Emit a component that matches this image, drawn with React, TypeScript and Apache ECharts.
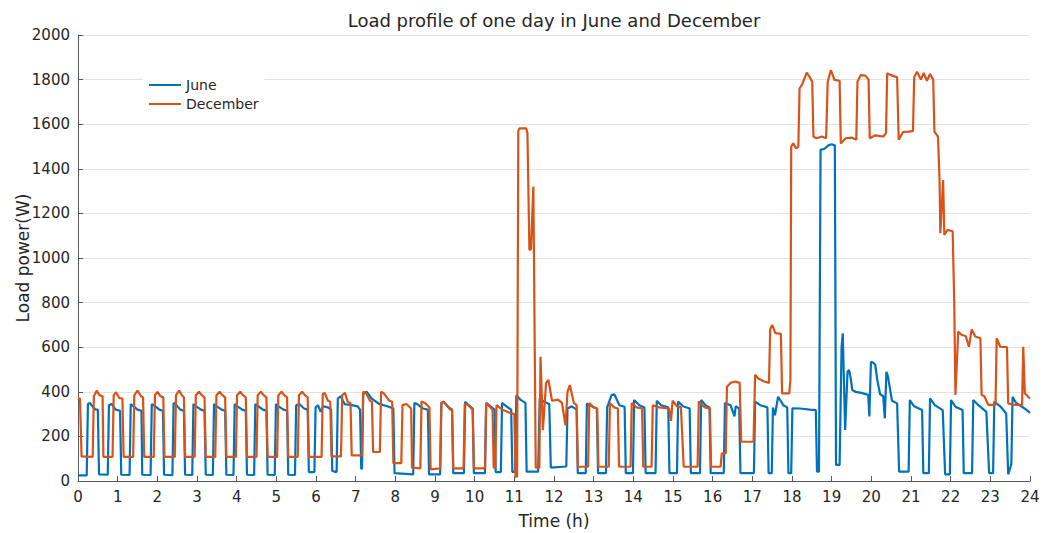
import React, { useEffect, useRef } from "react";
import * as echarts from "echarts";

const chartTitle = "Load profile of one day in June and December";
const xAxisName = "Time (h)";
const yAxisName = "Load power(W)";
const seriesNames = ["June", "December"];

// [hour, load W]
const juneLoad: [number, number][] = [
  [0, 25], [0.22, 25], [0.25, 345], [0.30, 350], [0.38, 330], [0.45, 320], [0.50, 320], [0.53, 30],
  [0.75, 28], [0.78, 340], [0.85, 345], [0.95, 320], [1.06, 315], [1.09, 28],
  [1.30, 27], [1.33, 345], [1.40, 335], [1.50, 320], [1.60, 315], [1.62, 28],
  [1.83, 27], [1.86, 345], [1.95, 335], [2.05, 320], [2.14, 315], [2.17, 28],
  [2.38, 26], [2.41, 350], [2.48, 340], [2.58, 320], [2.67, 315], [2.70, 28],
  [2.88, 27], [2.91, 345], [2.98, 335], [3.10, 320], [3.19, 315], [3.22, 28],
  [3.40, 27], [3.43, 345], [3.50, 335], [3.62, 320], [3.71, 315], [3.74, 28],
  [3.92, 27], [3.95, 345], [4.02, 335], [4.14, 320], [4.23, 315], [4.26, 28],
  [4.44, 27], [4.47, 345], [4.55, 335], [4.66, 320], [4.75, 315], [4.78, 28],
  [4.96, 27], [4.99, 345], [5.06, 335], [5.18, 320], [5.27, 315], [5.30, 28],
  [5.47, 27], [5.50, 340], [5.58, 345], [5.70, 325], [5.79, 320], [5.82, 40],
  [5.96, 40], [5.99, 330], [6.05, 340], [6.12, 310], [6.18, 335], [6.30, 330], [6.38, 320], [6.41, 45],
  [6.52, 40], [6.55, 370], [6.62, 380], [6.72, 345], [6.90, 340], [7.05, 335], [7.11, 320], [7.14, 55],
  [7.16, 55], [7.19, 390], [7.28, 400], [7.40, 370], [7.60, 345], [7.80, 335], [7.95, 325], [7.98, 35],
  [8.45, 30], [8.48, 350], [8.55, 345], [8.70, 325], [8.82, 320], [8.85, 30],
  [9.13, 30], [9.16, 350], [9.22, 355], [9.35, 330], [9.43, 320], [9.46, 35],
  [9.73, 35], [9.76, 355], [9.85, 340], [9.95, 325], [9.98, 35],
  [10.26, 35], [10.29, 350], [10.40, 335], [10.50, 320], [10.53, 40],
  [10.66, 40], [10.69, 350], [10.80, 335], [10.92, 320], [10.95, 40],
  [11.02, 42], [11.05, 385], [11.15, 365], [11.28, 350], [11.31, 42],
  [11.60, 42], [11.64, 370], [11.75, 355], [11.88, 345], [11.92, 60],
  [12.31, 65], [12.34, 325], [12.45, 335], [12.57, 320], [12.60, 35],
  [12.80, 35], [12.83, 348], [12.95, 335], [13.08, 325], [13.11, 35],
  [13.31, 35], [13.34, 330], [13.45, 385], [13.52, 389], [13.65, 340], [13.78, 333], [13.81, 35],
  [13.99, 35], [14.02, 363], [14.15, 340], [14.28, 330], [14.31, 35],
  [14.56, 35], [14.59, 360], [14.70, 340], [14.88, 330], [14.91, 35],
  [15.10, 35], [15.13, 356], [15.25, 335], [15.42, 325], [15.45, 35],
  [15.68, 35], [15.71, 363], [15.82, 340], [15.92, 330], [15.95, 35],
  [16.28, 35], [16.31, 350], [16.45, 340], [16.55, 290], [16.58, 335], [16.67, 325], [16.70, 35],
  [17.04, 35], [17.07, 356], [17.20, 340], [17.38, 330], [17.41, 35],
  [17.49, 35], [17.52, 330], [17.57, 295], [17.65, 378], [17.78, 340], [17.88, 330], [17.91, 35],
  [17.98, 35], [18.01, 326], [18.20, 325], [18.45, 320], [18.60, 318], [18.63, 42],
  [18.68, 42], [18.72, 1485], [18.82, 1490], [18.92, 1505], [19.00, 1510], [19.08, 1505], [19.11, 72],
  [19.20, 72], [19.25, 600], [19.28, 662], [19.34, 229], [19.40, 490], [19.44, 498], [19.48, 460],
  [19.52, 408], [19.60, 400], [19.75, 395], [19.92, 386], [19.95, 289], [19.99, 535], [20.05, 530],
  [20.10, 520], [20.15, 453], [20.22, 390], [20.30, 380], [20.34, 281], [20.38, 490], [20.42, 468],
  [20.52, 360], [20.65, 348], [20.70, 42],
  [20.94, 42], [20.97, 363], [21.08, 335], [21.28, 318], [21.31, 35],
  [21.45, 35], [21.48, 371], [21.60, 340], [21.80, 318], [21.86, 30],
  [21.98, 30], [22.01, 363], [22.12, 333], [22.30, 318], [22.33, 35],
  [22.54, 35], [22.57, 363], [22.70, 340], [22.90, 310], [22.97, 35],
  [23.07, 35], [23.10, 356], [23.25, 335], [23.40, 303], [23.45, 30],
  [23.53, 75], [23.56, 378], [23.65, 350], [23.80, 333], [23.92, 318], [24.0, 305],
];

const decemberLoad: [number, number][] = [
  [0, 372], [0.05, 370], [0.09, 110], [0.37, 108], [0.40, 380], [0.47, 405], [0.54, 385], [0.62, 380], [0.64, 108],
  [0.87, 108], [0.90, 385], [0.96, 398], [1.04, 372], [1.12, 370], [1.15, 108],
  [1.39, 108], [1.42, 385], [1.50, 405], [1.59, 380], [1.64, 375], [1.67, 108],
  [1.91, 108], [1.94, 385], [2.00, 400], [2.08, 380], [2.15, 375], [2.18, 108],
  [2.44, 108], [2.47, 385], [2.55, 405], [2.62, 385], [2.67, 375], [2.70, 108],
  [2.94, 108], [2.97, 385], [3.05, 400], [3.12, 385], [3.19, 375], [3.22, 108],
  [3.46, 108], [3.49, 385], [3.57, 400], [3.64, 385], [3.71, 375], [3.74, 108],
  [3.98, 108], [4.01, 385], [4.09, 400], [4.16, 385], [4.23, 375], [4.26, 108],
  [4.50, 108], [4.53, 385], [4.61, 400], [4.68, 385], [4.75, 375], [4.78, 108],
  [5.02, 108], [5.05, 385], [5.13, 400], [5.20, 385], [5.27, 375], [5.30, 108],
  [5.54, 108], [5.57, 385], [5.65, 400], [5.72, 385], [5.79, 375], [5.82, 108],
  [6.14, 108], [6.17, 390], [6.22, 395], [6.30, 360], [6.36, 355], [6.39, 110],
  [6.63, 110], [6.66, 385], [6.73, 395], [6.80, 355], [6.87, 350], [6.90, 115],
  [7.16, 115], [7.19, 400], [7.26, 395], [7.36, 360], [7.41, 355], [7.44, 130],
  [7.61, 130], [7.64, 400], [7.70, 395], [7.85, 360], [7.92, 355], [7.95, 80],
  [8.15, 80], [8.18, 340], [8.28, 345], [8.40, 325], [8.42, 60],
  [8.63, 57], [8.66, 357], [8.75, 350], [8.86, 330], [8.89, 52],
  [9.13, 57], [9.16, 350], [9.22, 355], [9.38, 320], [9.43, 320], [9.46, 57],
  [9.72, 57], [9.75, 345], [9.84, 340], [9.95, 320], [9.98, 57],
  [10.26, 57], [10.29, 350], [10.40, 330], [10.45, 320], [10.48, 60],
  [10.52, 60], [10.55, 340], [10.70, 320], [10.90, 305], [11.00, 300], [11.03, 20],
  [11.07, 20], [11.10, 1570], [11.13, 1581], [11.30, 1581], [11.33, 1560], [11.38, 1036], [11.42, 1040],
  [11.48, 1320], [11.54, 60], [11.63, 60], [11.66, 557], [11.72, 228], [11.80, 440], [11.86, 453],
  [11.95, 360], [12.10, 365], [12.20, 350], [12.29, 250], [12.34, 400], [12.40, 430], [12.50, 350],
  [12.57, 340], [12.60, 64],
  [12.86, 64], [12.89, 350], [13.00, 330], [13.09, 325], [13.12, 64],
  [13.38, 64], [13.41, 350], [13.52, 330], [13.61, 325], [13.64, 64],
  [13.93, 64], [13.96, 350], [14.08, 330], [14.22, 325], [14.25, 64],
  [14.46, 64], [14.49, 340], [14.65, 330], [14.90, 325], [14.95, 270], [14.99, 360], [15.10, 335],
  [15.20, 330], [15.27, 64],
  [15.62, 64], [15.65, 356], [15.80, 330], [15.93, 325], [15.96, 64],
  [16.20, 64], [16.23, 124], [16.33, 124], [16.36, 423], [16.45, 440], [16.57, 446], [16.68, 440], [16.72, 176],
  [17.03, 176], [17.07, 476], [17.15, 460], [17.30, 446], [17.42, 440], [17.45, 680], [17.50, 700],
  [17.58, 663], [17.72, 660], [17.75, 393], [17.93, 393], [17.96, 453],
  [17.98, 1500], [18.03, 1514], [18.10, 1492], [18.16, 1500], [18.19, 1760], [18.26, 1780], [18.37, 1831],
  [18.45, 1810], [18.51, 1790], [18.54, 1544], [18.62, 1537], [18.75, 1545], [18.86, 1537],
  [18.90, 1790], [18.98, 1843], [19.07, 1799], [19.20, 1795], [19.23, 1514], [19.35, 1537], [19.50, 1540],
  [19.62, 1530], [19.65, 1790], [19.73, 1820], [19.85, 1818], [19.93, 1800], [19.96, 1537], [20.10, 1550],
  [20.30, 1545], [20.37, 1560], [20.40, 1828], [20.50, 1820], [20.65, 1810], [20.69, 1530], [20.80, 1565],
  [20.95, 1567], [21.05, 1570], [21.08, 1810], [21.15, 1835], [21.25, 1800], [21.32, 1830], [21.40, 1795],
  [21.48, 1825], [21.56, 1800], [21.59, 1567], [21.68, 1544], [21.72, 1350], [21.74, 1111], [21.81, 1350],
  [21.84, 1103], [21.92, 1126], [22.05, 1120], [22.09, 800], [22.12, 386], [22.19, 670], [22.28, 655],
  [22.38, 650], [22.46, 602], [22.53, 680], [22.62, 648], [22.75, 640], [22.78, 386], [22.85, 380],
  [22.95, 341], [23.13, 341], [23.16, 640], [23.25, 602], [23.42, 600], [23.45, 348], [23.60, 341],
  [23.80, 341], [23.83, 602], [23.87, 393], [23.95, 378], [24.0, 370],
];

const FONT = "'DejaVu Sans', sans-serif";
const TEXT = "#262626";
const AXIS = "#5a5a5a";
const juneColor = "#0072BD";
const decColor = "#D95319";

export default function App() {
  const ref = useRef<HTMLDivElement>(null);
  useEffect(() => {
    if (!ref.current) return;
    const chart = echarts.init(ref.current, undefined, { renderer: "svg" });
    chart.setOption({
      animation: false,
      backgroundColor: "#ffffff",
      grid: {
        left: 78,
        right: 15,
        top: 35,
        bottom: 52,
        containLabel: false,
        outerBoundsMode: "none",
      },
      graphic: [
        {
          type: "text",
          x: 554,
          y: 20,
          style: {
            text: chartTitle,
            fontSize: 18,
            fontFamily: FONT,
            fill: TEXT,
            align: "center",
            verticalAlign: "middle",
          },
        },
      ],
      legend: {
        data: seriesNames,
        orient: "vertical",
        left: 143,
        top: 74,
        icon: "rect",
        itemWidth: 32,
        itemHeight: 2,
        itemGap: 5,
        padding: [4, 6, 4, 6],
        backgroundColor: "#ffffff",
        textStyle: { fontSize: 14, fontFamily: FONT, color: TEXT },
      },
      xAxis: {
        type: "value",
        min: 0,
        max: 24,
        interval: 1,
        name: xAxisName,
        nameLocation: "middle",
        nameGap: 31,
        nameMoveOverlap: false,
        nameTextStyle: { fontSize: 17, fontFamily: FONT, color: TEXT },
        axisLine: { show: true, lineStyle: { color: AXIS, width: 1 } },
        axisTick: { show: true, inside: true, length: 5, lineStyle: { color: AXIS } },
        axisLabel: { fontSize: 15, fontFamily: FONT, color: TEXT, margin: 8, formatter: (v: number) => String(v) },
        splitLine: { show: false },
      },
      yAxis: {
        type: "value",
        min: 0,
        max: 2000,
        interval: 200,
        name: yAxisName,
        nameLocation: "middle",
        nameGap: 47,
        nameMoveOverlap: false,
        nameTextStyle: { fontSize: 17, fontFamily: FONT, color: TEXT },
        axisLine: { show: true, lineStyle: { color: AXIS, width: 1 } },
        axisTick: { show: true, inside: true, length: 5, lineStyle: { color: AXIS } },
        axisLabel: { fontSize: 15, fontFamily: FONT, color: TEXT, margin: 8, formatter: (v: number) => String(v) },
        splitLine: { show: true, lineStyle: { color: "#e3e3e3", width: 1 } },
      },
      series: [
        {
          name: seriesNames[0],
          type: "line",
          data: juneLoad,
          symbol: "none",
          showSymbol: false,
          lineStyle: { width: 2.2, color: juneColor },
          itemStyle: { color: juneColor },
          z: 2,
        },
        {
          name: seriesNames[1],
          type: "line",
          data: decemberLoad,
          symbol: "none",
          showSymbol: false,
          lineStyle: { width: 2.2, color: decColor },
          itemStyle: { color: decColor },
          z: 3,
        },
      ],
    });
    return () => chart.dispose();
  }, []);
  return (
    <div
      ref={ref}
      style={{ position: "fixed", left: 0, top: 0, width: 1045, height: 533, background: "#fff" }}
    />
  );
}
